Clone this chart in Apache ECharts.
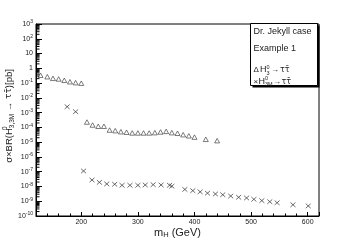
<!DOCTYPE html>
<html><head><meta charset="utf-8">
<script src="https://cdn.jsdelivr.net/npm/echarts@6/dist/echarts.min.js"></script>
<style>html,body{margin:0;padding:0;background:#fff}#c{width:355px;height:240px}</style>
</head><body><div id="c"></div>
<script>
const xMin = 120, xMax = 620;
const yMin = 1e-10, yMax = 1e3;
const xTickValues = [200, 300, 400, 500, 600];
const xTickLabels = ['200', '300', '400', '500', '600'];
const yTickValues = [1e-10,1e-9,1e-8,1e-7,1e-6,1e-5,1e-4,1e-3,1e-2,1e-1,1,10,100,1000];
const yTickLabels = ['10^-10','10^-9','10^-8','10^-7','10^-6','10^-5','10^-4','10^-3','10^-2','10^-1','1','10','10^2','10^3'];

// H3^0 -> tau tau (triangles)
const h3Mass = [128,140,150,160,170,180,190,200,210,220,230,240,250,260,270,280,290,300,310,320,330,340,350,360,370,380,390,400,420,440];
const h3Sigma = [0.34,0.27,0.21,0.19,0.155,0.123,0.107,0.098,2.3e-4,1.45e-4,1.19e-4,1.19e-4,6.6e-5,6.0e-5,5.1e-5,4.7e-5,4.2e-5,4.2e-5,4.2e-5,4.2e-5,4.4e-5,4.9e-5,5.4e-5,4.4e-5,4.0e-5,3.2e-5,2.7e-5,2.2e-5,1.56e-5,1.26e-5];
// H3M^0 -> tau tau (crosses)
const h3mMass = [175,190,204,219,232,245,259,272,286,300,313,327,341,356,360,383,397,410,423,437,450,464,478,492,505,519,533,546,574,601];
const h3mSigma = [2.5e-3,1.15e-3,1.12e-7,2.75e-8,1.9e-8,1.48e-8,1.41e-8,1.2e-8,1.2e-8,1.2e-8,1.26e-8,1.32e-8,1.26e-8,1.2e-8,1.05e-8,6.3e-9,5.2e-9,4.3e-9,3.5e-9,3.1e-9,2.75e-9,2.24e-9,1.86e-9,1.66e-9,1.35e-9,1.1e-9,9.3e-10,7.9e-10,5.75e-10,4.8e-10];

const FONT = 'Liberation Sans';
const yMinor = [];
for (let i = 0; i < yTickValues.length - 1; i++) for (let k = 2; k <= 9; k++) yMinor.push([xMin, k * yTickValues[i]]);

function yFmt(v) {
  let idx = -1;
  yTickValues.forEach((t, i) => { if (Math.abs(Math.log10(v) - Math.log10(t)) < 1e-6) idx = i; });
  if (idx < 0) return '';
  const s = yTickLabels[idx].split('^');
  return s.length > 1 ? '{b|' + s[0] + '}{e|' + s[1] + '}' : '{b|' + s[0] + '}';
}
function xFmt(v) {
  const idx = xTickValues.indexOf(Math.round(v));
  return idx < 0 ? '' : xTickLabels[idx];
}

const chart = echarts.init(document.getElementById('c'), null, {renderer: 'canvas'});
const legendX = 250, legendY = 23, legendW = 67, legendH = 62;
chart.setOption({
  animation: false,
  backgroundColor: '#fff',
  textStyle: {fontFamily: FONT},
  grid: {left: 36, right: 36, top: 24, bottom: 24, show: true, borderColor: '#000', borderWidth: 1, containLabel: false, outerBoundsMode: 'none'},
  xAxis: {
    type: 'value', min: xMin, max: xMax, splitNumber: 5,
    axisLine: {show: true, lineStyle: {color: '#000', width: 1}},
    axisTick: {show: true, inside: true, length: 4, lineStyle: {color: '#000'}},
    minorTick: {show: true, splitNumber: 5, length: 2.5, lineStyle: {color: '#000'}},
    axisLabel: {formatter: xFmt, fontSize: 7, color: '#222', margin: 3, fontFamily: FONT},
    splitLine: {show: false},
    name: '{n|m}{s|H}{n| (GeV)}', nameLocation: 'middle', nameGap: 10, nameMoveOverlap: false,
    nameTextStyle: {fontFamily: FONT, color: '#222', rich: {n: {fontSize: 11, fontFamily: FONT, color: '#222'}, s: {fontSize: 7.5, fontFamily: FONT, color: '#222', padding: [5, 0, 0, 0]}}}
  },
  yAxis: {
    type: 'log', logBase: 10, min: yMin, max: yMax, interval: 1, splitNumber: 13,
    axisLine: {show: true, lineStyle: {color: '#000', width: 1}},
    axisTick: {show: true, inside: true, length: 6, lineStyle: {color: '#000'}},
    axisLabel: {formatter: yFmt, margin: 3, color: '#222', fontFamily: FONT,
      rich: {b: {fontSize: 7, fontFamily: FONT, color: '#222'}, e: {fontSize: 5, fontFamily: FONT, color: '#222', padding: [0, 0, 4, 0]}}},
    splitLine: {show: false},
    name: '{n|σ×BR(H}{sup|0}{sub|3,3M}{n| → }{t|ττ̄}{n|)[pb]}', nameLocation: 'middle', nameGap: 20, nameRotate: 90, nameMoveOverlap: false,
    nameTextStyle: {fontFamily: FONT, color: '#222', padding: [0, 0, 0, 8], rich: {
      n: {fontSize: 9.5, fontFamily: FONT, color: '#222'},
      t: {fontSize: 9, fontFamily: 'DejaVu Sans', color: '#222'},
      sup: {fontSize: 6.5, fontFamily: FONT, color: '#222', padding: [0, 0, 7, 0], width: 0.01},
      sub: {fontSize: 6.5, fontFamily: FONT, color: '#222', padding: [6, 0, 0, 0]}}}
  },
  series: [
    {type: 'scatter', name: 'H3', data: h3Mass.map((m, i) => [m, h3Sigma[i]]),
      symbol: 'triangle', symbolSize: [5, 4.5],
      itemStyle: {color: 'rgba(0,0,0,0)', borderColor: '#333', borderWidth: 0.8}},
    {type: 'scatter', name: 'H3M', data: h3mMass.map((m, i) => [m, h3mSigma[i]]),
      symbol: 'path://M0,0L10,10M10,0L0,10', symbolSize: [5, 4.5],
      itemStyle: {color: 'none', borderColor: '#333', borderWidth: 0.9}},
    {type: 'custom', data: yMinor, clip: false, silent: true, z: 5,
      renderItem: (params, api) => {
        const p = api.coord([api.value(0), api.value(1)]);
        return {type: 'line', shape: {x1: p[0], y1: p[1], x2: p[0] + 3.5, y2: p[1]}, style: {stroke: '#000', lineWidth: 1}};
      }}
  ],
  graphic: [
    {type: 'rect', left: legendX + 2.5, top: legendY + 2.5, shape: {width: legendW, height: legendH}, style: {fill: '#000'}, z: 10},
    {type: 'rect', left: legendX, top: legendY, shape: {width: legendW, height: legendH}, style: {fill: '#fff', stroke: '#000', lineWidth: 1}, z: 11},
    {type: 'text', x: 253.5, y: 32, z: 12, style: {text: 'Dr. Jekyll case', font: '9px ' + FONT, fill: '#222', verticalAlign: 'middle'}},
    {type: 'text', x: 253.5, y: 49, z: 12, style: {text: 'Example 1', font: '9px ' + FONT, fill: '#222', verticalAlign: 'middle'}},
    {type: 'text', x: 253.5, y: 70, z: 12, style: {text: 'Δ', font: '8px ' + FONT, fill: '#222', verticalAlign: 'middle'}},
    {type: 'text', x: 260, y: 70, z: 12, style: {text: 'H', font: '9px ' + FONT, fill: '#222', verticalAlign: 'middle'}},
    {type: 'text', x: 266.5, y: 67, z: 12, style: {text: '0', font: '5.5px ' + FONT, fill: '#222', verticalAlign: 'middle'}},
    {type: 'text', x: 266.5, y: 73, z: 12, style: {text: '3', font: '5.5px ' + FONT, fill: '#222', verticalAlign: 'middle'}},
    {type: 'text', x: 271, y: 70, z: 12, style: {text: '→', font: '8px ' + FONT, fill: '#222', verticalAlign: 'middle'}},
    {type: 'text', x: 280, y: 70, z: 12, style: {text: 'ττ̄', font: '8px DejaVu Sans', fill: '#222', verticalAlign: 'middle'}},
    {type: 'text', x: 253.5, y: 81.5, z: 12, style: {text: '×', font: '8px ' + FONT, fill: '#222', verticalAlign: 'middle'}},
    {type: 'text', x: 258.5, y: 81.5, z: 12, style: {text: 'H', font: '9px ' + FONT, fill: '#222', verticalAlign: 'middle'}},
    {type: 'text', x: 265, y: 78.5, z: 12, style: {text: '0', font: '5.5px ' + FONT, fill: '#222', verticalAlign: 'middle'}},
    {type: 'text', x: 265, y: 84.5, z: 12, style: {text: '3M', font: '5.5px ' + FONT, fill: '#222', verticalAlign: 'middle'}},
    {type: 'text', x: 273, y: 81.5, z: 12, style: {text: '→', font: '8px ' + FONT, fill: '#222', verticalAlign: 'middle'}},
    {type: 'text', x: 281.5, y: 81.5, z: 12, style: {text: 'ττ̄', font: '8px DejaVu Sans', fill: '#222', verticalAlign: 'middle'}}
  ]
});
</script></body></html>
